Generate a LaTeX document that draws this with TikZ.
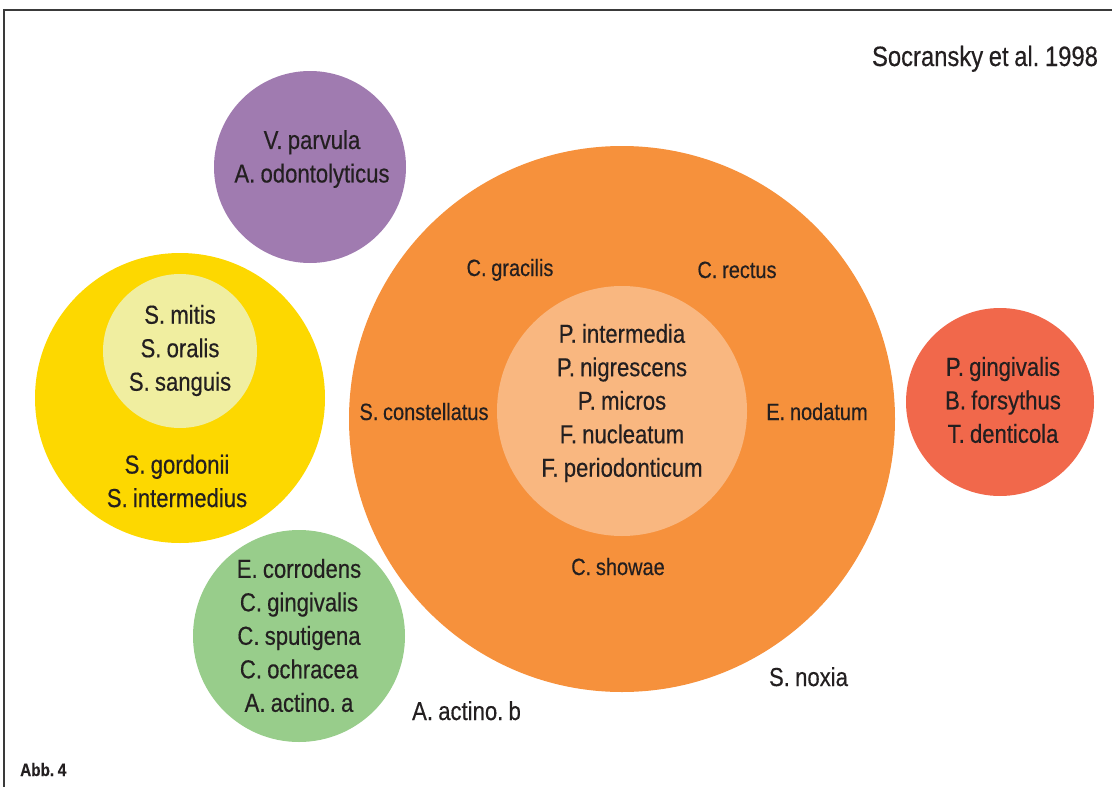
\documentclass[tikz,border=0pt]{standalone}
\usepackage{fontspec}
\setmainfont{Liberation Sans}[FakeStretch=0.85,WordSpace=0.85,FakeBold=0.4]
\usepackage{tikz}
\frenchspacing

\definecolor{ink}{HTML}{231F20}
\definecolor{rule}{HTML}{3A3A3A}
\definecolor{cviolet}{HTML}{A07BB0}
\definecolor{cyellow}{HTML}{FDD800}
\definecolor{cpale}{HTML}{F0EEA0}
\definecolor{corange}{HTML}{F6913C}
\definecolor{capricot}{HTML}{F9B780}
\definecolor{cred}{HTML}{F1684B}
\definecolor{cgreen}{HTML}{98CD8B}

\begin{document}
\begin{tikzpicture}[x=1pt,y=-1pt,baseline=0]
			
			\tikzstyle{every node}=[text=ink,inner sep=0pt]
			\tikzstyle{big}=[align=center,font=\fontsize{26}{33.5}\selectfont]
			\tikzstyle{small}=[anchor=base,font=\fontsize{23.5}{27}\selectfont]
			
			\def\violet{(310,167) coordinate (v) circle (96pt)}
			\def\yel{(180,398) coordinate (y) circle (145pt)}
			\def\yelin{(180,351) coordinate (yi) circle (77pt)}
			\def\orng{(622,419) coordinate (o) circle (273pt)}
			\def\orngin{(622,411) coordinate (oi) circle (125pt)}
			\def\rd{(1000,402) coordinate (r) circle (94pt)}
			\def\grn{(299,636) coordinate (g) circle (106pt)}
			
			\useasboundingbox (0,0) rectangle (1112,787);
			\coordinate (tr) at (1112,10);
			\coordinate (tl) at (4,10);
			\coordinate (bl) at (4,787);
			\draw[rule,line width=1.4pt] (tr) -- (tl) -- (bl);
			
			\fill[cviolet] \violet;
			\fill[cyellow] \yel;
			\fill[cpale] \yelin;
			\fill[corange] \orng;
			\fill[capricot] \orngin;
			\fill[cred] \rd;
			\fill[cgreen] \grn;
			
			\node[big] (vtxt) at (312,159) {V. parvula\\A. odontolyticus};
			\node[big] (yitxt) at (180,350.5) {S. mitis\\S. oralis\\S. sanguis};
			\node[big] (ytxt) at (177,481) {S. gordonii\\S. intermedius};
			\node[big] (gtxt) at (299,635.5) {E. corrodens\\C. gingivalis\\C. sputigena\\C. ochracea\\A. actino. a};
			\node[big] (oitxt) at (622,403) {P. intermedia\\P. nigrescens\\P. micros\\F. nucleatum\\F. periodonticum};
			\node[big] (rtxt) at (1003,400) {P. gingivalis\\B. forsythus\\T. denticola};
			
			\node[small] (gracilis) at (510,276) {C. gracilis};
			\node[small] (rectus) at (737,278) {C. rectus};
			\node[small] (constell) at (424,420) {S. constellatus};
			\node[small] (nodatum) at (817,420) {E. nodatum};
			\node[small] (showae) at (618,575) {C. showae};
			
			\node[big,anchor=base] (noxia) at (808.5,686) {S. noxia};
			\node[big,anchor=base] (actinob) at (466.5,720) {A. actino. b};
			\node[anchor=base,font=\fontsize{28}{32}\selectfont] (source) at (985,66) {Socransky et al. 1998};
			\node[anchor=base west,font=\fontsize{18}{20}\selectfont\bfseries] (abb) at (20,776) {Abb. 4};
			\end{tikzpicture}
\end{document}
